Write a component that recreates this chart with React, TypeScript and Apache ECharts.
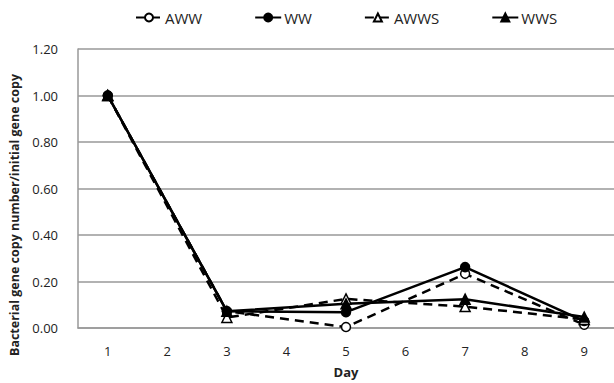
import React, { useEffect, useRef } from "react";
import * as echarts from "echarts";

const days = ["1", "2", "3", "4", "5", "6", "7", "8", "9"];
const aww = [1.0, null, 0.072, null, 0.004, null, 0.233, null, 0.014];
const ww = [1.0, null, 0.072, null, 0.068, null, 0.262, null, 0.03];
const awws = [1.0, null, 0.045, null, 0.125, null, 0.092, null, 0.037];
const wws = [1.0, null, 0.072, null, 0.104, null, 0.124, null, 0.047];
const yTicks = [0, 0.2, 0.4, 0.6, 0.8, 1.0, 1.2];

const FONT = "Open Sans";

export default function App() {
  const ref = useRef<HTMLDivElement>(null);
  useEffect(() => {
    const chart = echarts.init(ref.current!, undefined, { renderer: "svg" });
    const mk = (name: string, data: (number | null)[], symbol: string, filled: boolean, dashed: boolean, size: number) => ({
      name,
      type: "line",
      data,
      connectNulls: true,
      symbol,
      symbolSize: size,
      showAllSymbol: true,
      lineStyle: { color: "#000", width: 2.5, type: dashed ? [9, 6] : "solid" },
      itemStyle: { color: filled ? "#000" : "#fff", borderColor: "#000", borderWidth: 1.5 },
    });
    chart.setOption({
      animation: false,
      textStyle: { fontFamily: FONT },
      legend: {
        top: 5,
        left: 130,
        itemWidth: 26,
        itemHeight: 10,
        itemGap: 52,
        textStyle: { fontSize: 15, color: "#222", fontFamily: FONT, padding: [0, 0, 0, -2] },
        data: ["AWW", "WW", "AWWS", "WWS"],
      },
      grid: { left: 78, right: 0, top: 49, bottom: 55 },
      xAxis: {
        type: "category",
        data: days,
        boundaryGap: true,
        name: "Day",
        nameLocation: "middle",
        nameGap: 37,
        nameTextStyle: { fontSize: 13, fontWeight: "bold", color: "#222", fontFamily: FONT },
        axisLine: { lineStyle: { color: "#999", width: 1.5 } },
        axisTick: { show: false },
        axisLabel: { fontSize: 13, color: "#222", margin: 16, fontFamily: FONT },
      },
      yAxis: {
        type: "value",
        min: yTicks[0],
        max: yTicks[yTicks.length - 1],
        interval: 0.2,
        axisLine: { show: true, lineStyle: { color: "#999", width: 1.5 } },
        axisTick: { show: false },
        splitLine: { lineStyle: { color: "#999", width: 1.5 } },
        axisLabel: {
          fontSize: 13,
          color: "#222",
          margin: 20,
          fontFamily: FONT,
          formatter: (v: number) => v.toFixed(2),
        },
      },
      graphic: [
        {
          type: "text",
          x: 14,
          y: 215,
          rotation: Math.PI / 2,
          style: {
            text: "Bacterial gene copy number/initial gene copy",
            fontSize: 12.5,
            fontWeight: "bold",
            fontFamily: FONT,
            fill: "#222",
            align: "center",
            verticalAlign: "middle",
          },
        },
      ],
      series: [
        mk("AWW", aww, "circle", false, true, 9),
        mk("WW", ww, "circle", true, false, 9),
        mk("AWWS", awws, "triangle", false, true, 10),
        mk("WWS", wws, "triangle", true, false, 10),
      ],
    });
    return () => chart.dispose();
  }, []);
  return <div ref={ref} style={{ width: 614, height: 383, position: "absolute", left: 0, top: 0 }} />;
}
